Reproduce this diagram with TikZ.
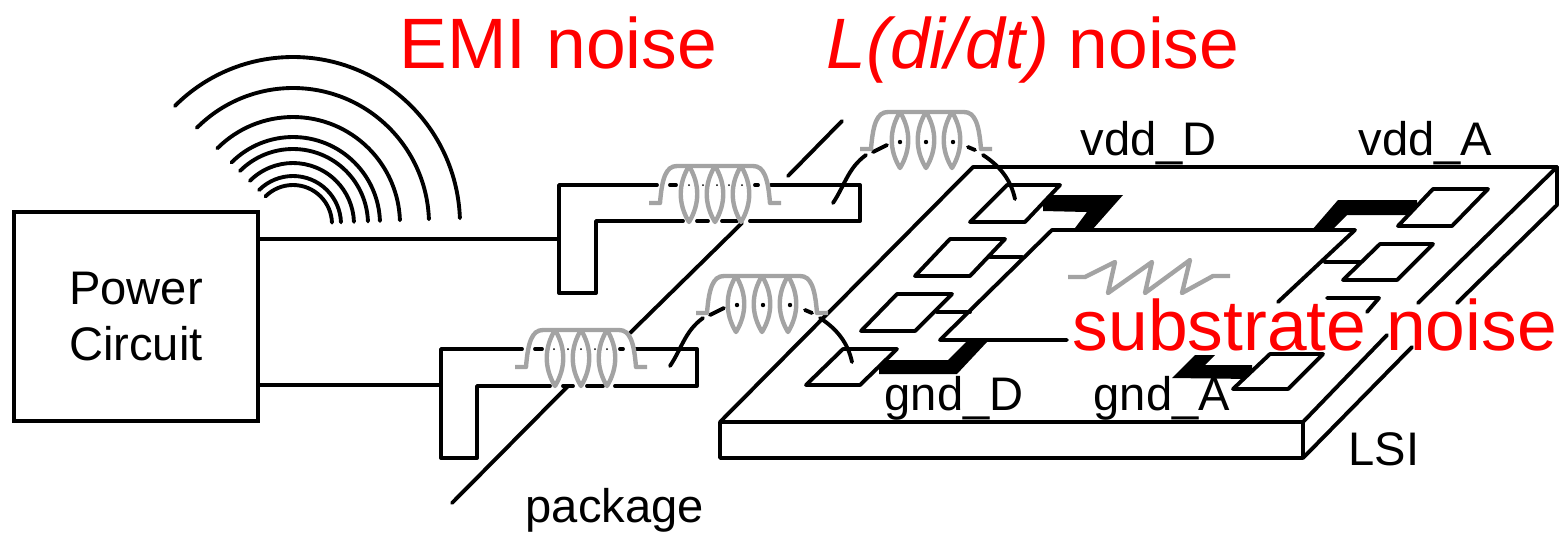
\documentclass[tikz,border=0pt]{standalone}
\usepackage{fontspec}
\setmainfont{Liberation Sans}

% Grey coil: #1 = centre x, #2 = top y
\newcommand{\coil}[2]{
  \begin{scope}[shift={(#1,#2)}]
    \draw[coilline] (-66,37) -- (-55,37) .. controls (-53,12) and (-49,0) .. (-38,0) -- (38,0) .. controls (49,0) and (53,12) .. (55,37) -- (66,37);
    \foreach \lensx in {-26,0,26} {
      \draw[coilline] (\lensx,0) .. controls (\lensx-11,18) and (\lensx-11,38) .. (\lensx,56) .. controls (\lensx+11,38) and (\lensx+11,18) .. (\lensx,0);
    }
  \end{scope}
}

% Bond wire behind a coil, with its three dots: #1 = shift
\newcommand{\bondwire}[1]{
  \begin{scope}[shift={(#1)}]
    \draw[wire] (833,203) .. controls (845,185) and (848,168) .. (866,155);
    \draw[wire] (873,152) -- (887,145);
    \draw[wire] (968,147) -- (975,150);
    \draw[wire] (983,155) .. controls (1000,166) and (1011,180) .. (1015,199);
    \foreach \dotx in {900,926,953} {\fill (\dotx,142) circle (2.2);}
  \end{scope}
}

\begin{document}
\begin{tikzpicture}[
        x=0.01cm, y=-0.01cm,
        wire/.style={line width=1.1pt, line cap=round, line join=round},
        coilline/.style={line width=1.25pt, draw=coilgrey, line join=round},
        padbox/.style={wire, fill=white},
        label/.style={anchor=base west, inner sep=0pt, font=\fontsize{13.4}{16}\selectfont},
        noise/.style={anchor=base west, inner sep=0pt, text=red, font=\fontsize{20.3}{24}\selectfont}
        ]
        \definecolor{coilgrey}{gray}{0.64}
        \useasboundingbox (0,0) rectangle (1568,535);

        % Nodes
        \node[draw, line width=1.1pt, align=center, minimum width=2.44cm, minimum height=2.09cm, font=\fontsize{13.4}{16.2}\selectfont] (power) at (136,316.5) {Power\\Circuit};
        \node[noise] (emi) at (399,68) {EMI noise};
        \node[noise] (ldidt) at (826,68) {\textit{L(di/dt)} noise};
        \node[label] (vddD) at (1080,155) {vdd\_D};
        \node[label] (vddA) at (1358,155) {vdd\_A};
        \node[label] (gndD) at (884,410) {gnd\_D};
        \node[label] (gndA) at (1093,410) {gnd\_A};
        \node[label] (lsi) at (1348,465) {LSI};
        \node[label] (package) at (525,522) {package};

        \coordinate (pkgtop) at (558,239);
        \coordinate (pkgbot) at (441,385);

        % Radiated waves
        \foreach \radius in {39,48,61,75,87,107,136,167} {
          \draw[wire] ([shift={(-135:\radius)}]293,224) arc (-135:-2:\radius);
        }

        % Power lines
        \draw[wire] (power.east |- pkgtop) -- (pkgtop);
        \draw[wire] (power.east |- pkgbot) -- (pkgbot);

        % Package, upper lead
        \draw[wire] (657,185) -- (559,185) -- (559,293) -- (596,293) -- (596,221) -- (683,221);
        \draw[wire] (771,185) -- (860,185) -- (860,221) -- (750,221);
        \draw[wire] (697,221) -- (708,221) (722,221) -- (737,221) (670,185) -- (676,185) (755,185) -- (758,185);
        \foreach \dotx in {689,703,717,729,742} {\fill (\dotx,185) circle (1);}

        % Package, lower lead
        \draw[wire] (522,349) -- (441,349) -- (441,458) -- (477,458) -- (477,386) -- (550,386);
        \draw[wire] (636,349) -- (697,349) -- (697,386) -- (615,386);
        \draw[wire] (563,386) -- (573,386) (587,386) -- (603,386) (535,349) -- (542,349) (620,349) -- (623,349);
        \foreach \dotx in {554,568,581,595,607} {\fill (\dotx,349) circle (1);}

        % Package edges
        \draw[wire] (452,503) -- (568,386);
        \draw[wire] (630,333) -- (742,223);
        \draw[wire] (788,176) -- (842,121);

        % LSI chip
        \draw[wire] (720,422) -- (973,167) -- (1557,167) -- (1418,303);
        \draw[wire] (1387,335) -- (1303,422) -- (720,422) -- (720,458) -- (1303,458) -- (1303,422);
        \draw[wire] (1557,167) -- (1557,205) -- (1457,303);
        \draw[wire] (1412,347) -- (1303,458);

        % Core outline
        \draw[wire] (1278,302) -- (1355,230) -- (1052,230) -- (940,340) -- (1067,340);
        \draw[wire] (1327,298) -- (1379,298) -- (1367,312);

        % Pad stubs
        \draw[wire] (990,257) -- (1022,257);
        \draw[wire] (937,312) -- (970,312);
        \draw[wire] (1325,262) -- (1360,262);

        % Black power straps
        \fill (1043,195) -- (1123,195) -- (1092,230) -- (1075,228) -- (1087,212) -- (1043,211) -- cycle;
        \fill (1312,230) -- (1338,200) -- (1417,200) -- (1417,215) -- (1347,215) -- (1332,230) -- cycle;
        \fill (879,360) -- (948,360) -- (966,342) -- (987,342) -- (957,374) -- (879,374) -- cycle;
        \fill (1172,378) -- (1195,355) -- (1215,355) -- (1205,365) -- (1252,365) -- (1252,379) -- cycle;

        % Pads
        \draw[padbox] (1007,185) -- (1060,185) -- (1025,222) -- (970,222) -- cycle;
        \draw[padbox] (950,239) -- (1005,239) -- (970,276) -- (915,276) -- cycle;
        \draw[padbox] (897,294) -- (952,294) -- (915,331) -- (861,331) -- cycle;
        \draw[padbox] (843,349) -- (897,349) -- (860,385) -- (806,385) -- cycle;
        \draw[padbox] (1433,189) -- (1488,189) -- (1452,226) -- (1398,226) -- cycle;
        \draw[padbox] (1380,244) -- (1433,244) -- (1397,280) -- (1343,280) -- cycle;
        \draw[padbox] (1270,354) -- (1323,354) -- (1288,389) -- (1233,389) -- cycle;

        % Bond wires and coils
        \bondwire{0,0}
        \bondwire{-163,163}
        \coil{926}{112}
        \coil{762}{276}
        \coil{715}{166}
        \coil{581}{330}

        % Substrate resistor
        \draw[coilline] (1068,277) -- (1085,277) -- (1115,262) -- (1108,293) -- (1152,262) -- (1145,293) -- (1190,260) -- (1182,293) -- (1213,276) -- (1230,276);

        \node[noise] (substrate) at (1072,350) {substrate noise};

\end{tikzpicture}
\end{document}
